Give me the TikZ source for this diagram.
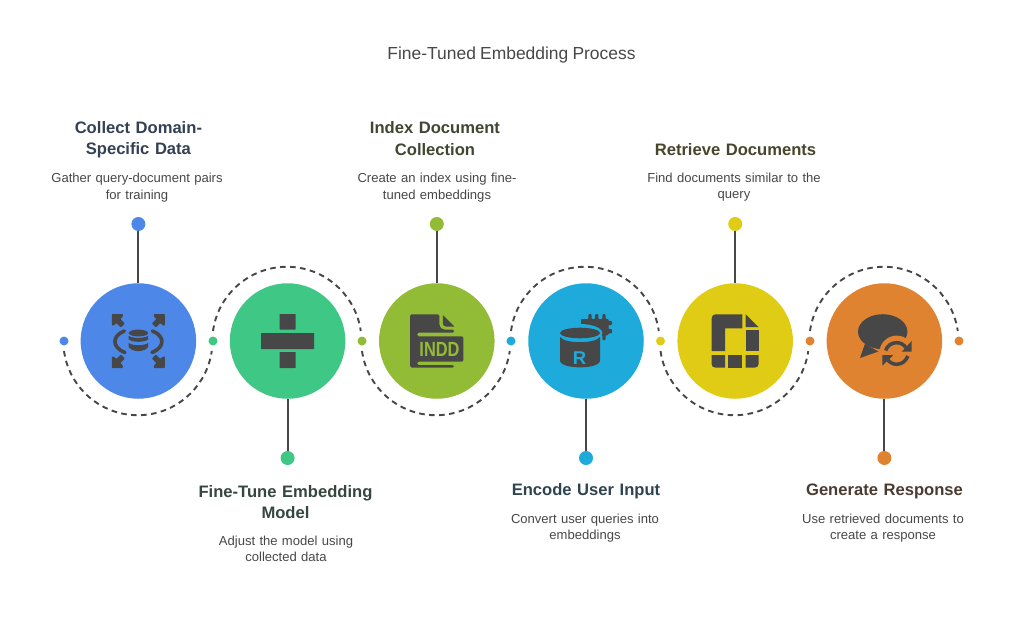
\documentclass[tikz,border=0pt]{standalone}
\usepackage{fontspec}
\setmainfont[WordSpace=0.85]{Liberation Sans}
\usetikzlibrary{calc}
\definecolor{icon}{HTML}{474747}
\definecolor{cA}{HTML}{4D87E8}
\definecolor{cB}{HTML}{3EC785}
\definecolor{cC}{HTML}{93BC36}
\definecolor{cD}{HTML}{1EABDB}
\definecolor{cE}{HTML}{E0CC14}
\definecolor{cF}{HTML}{E08330}
\definecolor{tA}{HTML}{344054}
\definecolor{tB}{HTML}{36473F}
\definecolor{tC}{HTML}{3F4730}
\definecolor{tD}{HTML}{30444F}
\definecolor{tE}{HTML}{47452C}
\definecolor{tF}{HTML}{4A3B2F}
\definecolor{body}{HTML}{474747}
\tikzset{
  x=1pt,y=-1pt,
  bigdisc/.style={circle,fill=#1,minimum size=115.5pt,inner sep=0pt},
  minidot/.style={circle,fill=#1,minimum size=9pt,inner sep=0pt},
  enddot/.style={circle,fill=#1,minimum size=14pt,inner sep=0pt},
  stem/.style={draw=icon,line width=2.1pt},
  wave/.style={draw=icon,line width=1.9pt,dash pattern=on 5.6pt off 4.4pt},
  headtext/.style={text=#1,font=\fontsize{16.6}{21.5}\selectfont\bfseries,align=center,text width=190pt,inner sep=0pt},
  subtext/.style={text=body,font=\fontsize{13.05}{16.5}\selectfont,align=center,text width=190pt,inner sep=0pt},
  ic/.style={fill=icon,draw=none},
}
\begin{document}
\begin{tikzpicture}
\useasboundingbox (0,0) rectangle (1023,618);
\node[text=body,font=\fontsize{17.45}{20}\selectfont,inner sep=0pt] (title) at (511.5,54.5) {Fine-Tuned Embedding Process};

\foreach \n/\x/\c in {a/138.4/cA,b/287.6/cB,c/436.8/cC,d/586/cD,e/735.2/cE,f/884.4/cF}{
  \node[bigdisc=\c] (disc\n) at (\x,341) {};
}
\node[minidot=cA] (m0) at (64,341) {};
\node[minidot=cB] (m1) at (213,341) {};
\node[minidot=cC] (m2) at (362,341) {};
\node[minidot=cD] (m3) at (511,341) {};
\node[minidot=cE] (m4) at (660.5,341) {};
\node[minidot=cF] (m5) at (810,341) {};
\node[minidot=cF] (m6) at (959,341) {};

\node[enddot=cA] (ea) at (138.4,224) {};
\node[enddot=cB] (eb) at (287.6,458) {};
\node[enddot=cC] (ec) at (436.8,224) {};
\node[enddot=cD] (ed) at (586,458) {};
\node[enddot=cE] (ee) at (735.2,224) {};
\node[enddot=cF] (ef) at (884.4,458) {};
\foreach \n in {a,b,c,d,e,f}{\draw[stem] (e\n) -- (disc\n);}

% dashed half circles
\draw[wave] ($(m0)+(0,10)$) arc[start angle=172,end angle=8,radius=74.6];
\draw[wave] ($(m1)+(0,-10)$) arc[start angle=188,end angle=352,radius=74.6];
\draw[wave] ($(m2)+(0,10)$) arc[start angle=172,end angle=8,radius=74.6];
\draw[wave] ($(m3)+(0,-10)$) arc[start angle=188,end angle=352,radius=74.6];
\draw[wave] ($(m4)+(0,10)$) arc[start angle=172,end angle=8,radius=74.6];
\draw[wave] ($(m5)+(0,-10)$) arc[start angle=188,end angle=352,radius=74.6];

% texts
\node[headtext=tA] (ta) at (138.4,139.5) {Collect Domain-\\Specific Data};
\node[subtext] (sa) at (137,187.5) {Gather query-document pairs\\for training};
\node[headtext=tB] (tb) at (285.5,502) {Fine-Tune Embedding\\Model};
\node[subtext] (sb) at (286,549) {Adjust the model using\\collected data};
\node[headtext=tC] (tc) at (435,138.5) {Index Document\\Collection};
\node[subtext] (sc) at (437,187.5) {Create an index using fine-\\tuned embeddings};
\node[headtext=tD] (td) at (586,491) {Encode User Input};
\node[subtext] (sd) at (585,528) {Convert user queries into\\embeddings};
\node[headtext=tE] (te) at (735.5,149.5) {Retrieve Documents};
\node[subtext] (se) at (734,187) {Find documents similar to the\\query};
\node[headtext=tF] (tf) at (884.5,491) {Generate Response};
\node[subtext] (sf) at (883,528) {Use retrieved documents to\\create a response};

% icon a: database with arrows
\begin{scope}[shift={(138.4,341)}]
  \fill[ic] (0,-8) ellipse[x radius=9.7,y radius=3.4];
  \fill[ic] (-9.7,-5.2) .. controls (-6,-2.4) and (6,-2.4) .. (9.7,-5.2) -- (9.7,-1.6) .. controls (6,1.6) and (-6,1.6) .. (-9.7,-1.6) -- cycle;
  \fill[ic] (-9.7,2) .. controls (-6,5) and (6,5) .. (9.7,2) -- (9.7,6) .. controls (6,11.5) and (-6,11.5) .. (-9.7,6) -- cycle;
  \foreach \s in {-1,1}{
    \draw[icon,line width=3.6pt,line cap=round] (\s*14,-10) .. controls (\s*26,-5.5) and (\s*27.5,6) .. (\s*13.5,11.5);
  }
  \foreach \sx/\sy in {-1/-1,1/-1,-1/1,1/1}{
    \fill[ic,rounded corners=0.8pt] (\sx*26.5,\sy*27) -- (\sx*15.5,\sy*27) -- (\sx*15.5,\sy*24.5) -- (\sx*18,\sy*22) -- (\sx*13.5,\sy*17.5) -- (\sx*17.5,\sy*13.5) -- (\sx*22,\sy*18) -- (\sx*24.5,\sy*15.5) -- (\sx*26.5,\sy*15.5) -- cycle;
  }
\end{scope}

% icon b: division sign
\begin{scope}[shift={(287.6,341)}]
  \fill[ic,rounded corners=0.6pt] (-26.5,-8) rectangle (26.5,8);
  \fill[ic,rounded corners=0.6pt] (-8,-27) rectangle (8,-11.5);
  \fill[ic,rounded corners=0.6pt] (-8,11) rectangle (8,27);
\end{scope}

% icon c: INDD file
\begin{scope}[shift={(436.8,341)}]
  \fill[ic,rounded corners=1.5pt] (-26.7,-26.7) -- (2.6,-26.7) -- (2.6,-18) .. controls (2.6,-13.5) and (5,-11.5) .. (9,-11.5) -- (17.3,-11.5) -- (17.3,-8.3) -- (-19.6,-8.3) -- (-19.6,-4.6) -- (26.6,-4.6) -- (26.6,20.7) -- (-19.6,20.7) -- (-19.6,24) -- (17.3,24) -- (17.3,26.5) -- (-26.7,26.5) -- cycle;
  \fill[ic] (6,-26) -- (17.5,-14.5) -- (9,-14.5) .. controls (7,-14.5) and (6,-16) .. (6,-18) -- cycle;
  \node[text=cC,font=\fontsize{20.5}{20.5}\selectfont\bfseries,inner sep=0pt] (indd) at (2.7,8) {\scalebox{0.8}[1]{INDD}};
\end{scope}

% icon d: database with chip
\begin{scope}[shift={(586,341)}]
  \fill[ic,rounded corners=0.8pt] (-5,-22) -- (2.3,-22) -- (2.3,-26.8) -- (5.7,-26.8) -- (5.7,-22) -- (9,-22) -- (9,-26.8) -- (12.3,-26.8) -- (12.3,-22) -- (16.3,-22) -- (16.3,-26.8) -- (19.7,-26.8) -- (19.7,-22) -- (22.5,-22) -- (22.5,-20) -- (26,-20) -- (26,-16) -- (22.5,-16) -- (22.5,-12) -- (26,-12) -- (26,-7.7) -- (22.5,-7.7) -- (22.5,-6) -- (19.7,-6) -- (19.7,-1) -- (16.3,-1) -- (16.3,-6) -- (-5,-6) -- cycle;
  \fill[cD] (-6,-8) ellipse[x radius=22.3,y radius=9];
  \fill[ic] (-6,-8) ellipse[x radius=20,y radius=5.3];
  \fill[ic,rounded corners=1pt] (-26,-4.5) .. controls (-21,2.8) and (9,2.8) .. (14,-4.5) -- (14,20.5) .. controls (9,28) and (-21,28) .. (-26,20.5) -- cycle;
  \node[text=cD,font=\fontsize{18.5}{18.5}\selectfont\bfseries,inner sep=0pt] (rr) at (-6.5,17) {R};
\end{scope}

% icon e: file segments
\begin{scope}[shift={(735.2,341)}]
  \fill[ic] (-23.5,10) -- (-23.5,-22.7) .. controls (-23.5,-25.2) and (-22,-26.7) .. (-19.5,-26.7) -- (7.1,-26.7) -- (7.1,-12.7) -- (-10.2,-12.7) -- (-10.2,10) -- cycle;
  \fill[ic] (10.5,-26.7) -- (23.3,-14) -- (10.5,-14) -- cycle;
  \fill[ic] (10.5,-10.7) rectangle (23.3,10);
  \fill[ic] (-23.5,14) -- (-10.2,14) -- (-10.2,26.5) -- (-20,26.5) .. controls (-22.3,26.5) and (-23.5,25.3) .. (-23.5,23) -- cycle;
  \fill[ic] (-7.2,14) rectangle (7.1,26.5);
  \fill[ic] (10.5,14) -- (23.3,14) -- (23.3,23) .. controls (23.3,25.3) and (22.1,26.5) .. (19.8,26.5) -- (10.5,26.5) -- cycle;
\end{scope}

% icon f: speech bubble with refresh
\begin{scope}[shift={(884.4,341)}]
  \fill[ic] (-1.7,-9.3) ellipse[x radius=24.7,y radius=17.5];
  \fill[ic] (-19.5,3) -- (-24.4,17) -- (-6,10.5) -- cycle;
  \fill[cF] (12.3,12) circle (17.4);
  \draw[icon,line width=3.5pt] (1.2,9.5) .. controls (3,4.5) and (7,1.7) .. (12.3,1.7) .. controls (16,1.7) and (19,3.2) .. (21.5,6.5);
  \fill[ic] (27.3,0) -- (27.3,10.7) -- (17.3,10.7) -- cycle;
  \draw[icon,line width=3.5pt] (23.5,15) .. controls (21.5,20) and (17.5,23.3) .. (12.3,23.3) .. controls (8.5,23.3) and (5.5,21.5) .. (3,18.5);
  \fill[ic] (-2,14) -- (9,14) -- (-2,24.7) -- cycle;
\end{scope}
\end{tikzpicture}
\end{document}
